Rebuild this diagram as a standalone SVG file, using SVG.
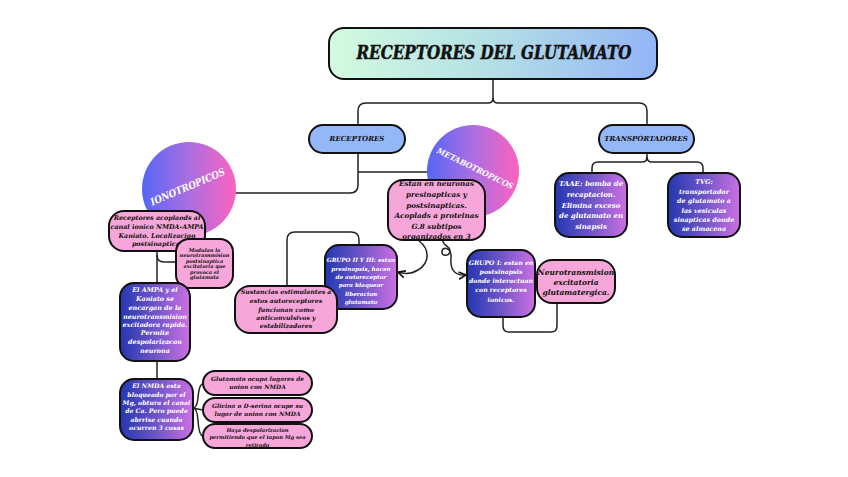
<svg xmlns="http://www.w3.org/2000/svg" width="848" height="477" viewBox="0 0 848 477">
<defs>
<linearGradient id="gTitle" x1="0" y1="0" x2="1" y2="0"><stop offset="0" stop-color="#d3fbe0"/><stop offset="0.5" stop-color="#b3dfe6"/><stop offset="1" stop-color="#93b5f7"/></linearGradient>
<linearGradient id="gCirc" x1="0" y1="0" x2="1" y2="0"><stop offset="0" stop-color="#5566f6"/><stop offset="0.5" stop-color="#ab6ee0"/><stop offset="1" stop-color="#fb63bf"/></linearGradient>
<linearGradient id="gBox" x1="0" y1="0" x2="1" y2="0"><stop offset="0" stop-color="#2437b0"/><stop offset="0.5" stop-color="#6f55c8"/><stop offset="1" stop-color="#cc70e2"/></linearGradient>
<marker id="arr" viewBox="0 0 10 10" refX="9" refY="5" markerWidth="6" markerHeight="6" orient="auto"><path d="M1,1 L9,5 L1,9" fill="none" stroke="#111" stroke-width="1.8"/></marker>
</defs>
<style>
text{font-family:"DejaVu Serif","Liberation Serif",serif;font-weight:bold;font-style:italic;text-anchor:middle}
.b{fill:#111}
.w{fill:#fff}
.box{stroke:#111;stroke-width:2}
.pink{fill:#f6a6d8}
.blue{fill:#94b8f7}
.grad{fill:url(#gBox)}
.con path{fill:none;stroke:#222;stroke-width:1.5}
</style>
<rect width="848" height="477" fill="#fff"/>

<g class="con">
<path d="M493,79 V98 Q493,103 488,103 H366 Q358,103 358,111 V125"/>
<path d="M493,98 Q493,103 498,103 H639 Q647,103 647,111 V125"/>
<path d="M358,153 V185 Q358,193 350,193 H235"/>
<path d="M358,172 H429"/>
<path d="M647,153 V157 Q647,162 642,162 H598 Q592,162 592,168 V173"/>
<path d="M647,157 Q647,162 652,162 H697 Q703,162 703,168 V173"/>
<path d="M157,251 V283"/>
<path d="M157,255 Q157,262 164,262 H177"/>
<path d="M157,361 V379"/>
<path d="M193,408 Q197,408 198,398 Q199,384 203,384"/>
<path d="M193,408 Q197,409 203,410"/>
<path d="M193,408 Q197,408 198,420 Q199,436 203,436"/>
<path d="M287,286 V240 Q287,232 295,232 H351 Q359,232 359,240 V245"/>
<path d="M503,317 V326 Q503,332 509,332 H551 Q557,332 557,326 V303"/>
<path d="M419,241 C430,249 430,263 418,270 C410,275 404,274 398,272" marker-end="url(#arr)"/>
<path d="M443,241 C443,246 452,247 450,252 C448,257 441,256 442,251 C443,246 452,248 451,258 C450,270 455,276 466,275" marker-end="url(#arr)"/>
</g>

<g id="title">
<rect class="box" x="329" y="28" width="328" height="51" rx="15" fill="url(#gTitle)"/>
<text class="b" x="494" y="59" font-size="18" stroke="#111" stroke-width="0.5" textLength="275" lengthAdjust="spacingAndGlyphs">RECEPTORES DEL GLUTAMATO</text>
</g>

<g id="receptores">
<rect class="box blue" x="309" y="125" width="96" height="28" rx="14"/>
<text class="b" x="357" y="141" font-size="7">RECEPTORES</text>
</g>

<g id="transportadores">
<rect class="box blue" x="599" y="125" width="95" height="28" rx="14"/>
<text class="b" x="646" y="141" font-size="7">TRANSPORTADORES</text>
</g>

<g id="ionotropicos">
<circle cx="189" cy="189" r="47" fill="url(#gCirc)"/>
<text class="w" x="0" y="0" font-size="10" textLength="80" lengthAdjust="spacingAndGlyphs" transform="translate(189,190) rotate(-23)">IONOTROPICOS</text>
</g>

<g id="metabotropicos">
<circle cx="473" cy="171" r="46" fill="url(#gCirc)"/>
<text class="w" x="0" y="0" font-size="8" textLength="84" lengthAdjust="spacingAndGlyphs" transform="translate(474,171) rotate(26)">METABOTROPICOS</text>
</g>

<g id="acoplados">
<rect class="box pink" x="109" y="211" width="96" height="40" rx="15"/>
<text class="b" font-size="6.4"><tspan x="157" y="219.5">Receptores acoplaods al</tspan><tspan x="157" y="228.5">canal ionico NMDA-AMPA</tspan><tspan x="157" y="237.5">Kaniato. Localizacion</tspan><tspan x="157" y="246">postsinaptica.</tspan></text>
</g>

<g id="modulan">
<rect class="box pink" x="176" y="239" width="57" height="49" rx="13"/>
<text class="b" font-size="5"><tspan x="204.5" y="251.5">Modulan la</tspan><tspan x="204.5" y="257">neurotransmision</tspan><tspan x="204.5" y="262.5">postsinaptica</tspan><tspan x="204.5" y="268">excitatoria que</tspan><tspan x="204.5" y="273.5">provoca el</tspan><tspan x="204.5" y="279">glutamato</tspan></text>
</g>

<g id="ampa">
<rect class="box grad" x="120" y="283" width="70" height="78" rx="14"/>
<text class="w" font-size="6.4"><tspan x="155" y="292">El AMPA y el</tspan><tspan x="155" y="301">Kaniato se</tspan><tspan x="155" y="310">encargan de la</tspan><tspan x="155" y="319">neurotransmision</tspan><tspan x="155" y="327">excitadora rapida.</tspan><tspan x="155" y="335">Permite</tspan><tspan x="155" y="344">despolarizacon</tspan><tspan x="155" y="353">neurona</tspan></text>
</g>

<g id="nmda">
<rect class="box grad" x="120" y="379" width="73" height="61" rx="14"/>
<text class="w" font-size="6.2"><tspan x="156.5" y="388">El NMDA esta</tspan><tspan x="156.5" y="396.5">bloqueado por el</tspan><tspan x="156.5" y="405">Mg, obtura el canal</tspan><tspan x="156.5" y="413">de Ca. Pero puede</tspan><tspan x="156.5" y="421.5">abrrise cuando</tspan><tspan x="156.5" y="430">ocurren 3 cosas</tspan></text>
</g>

<g id="glutamato-ocupa">
<rect class="box pink" x="203" y="371" width="109" height="24" rx="12"/>
<text class="b" font-size="5.9"><tspan x="257.5" y="380.5">Glutamato ocupa lugares de</tspan><tspan x="257.5" y="388.5">union con NMDA</tspan></text>
</g>

<g id="glicina">
<rect class="box pink" x="203" y="398" width="109" height="24" rx="12"/>
<text class="b" font-size="5.9"><tspan x="257.5" y="407.5">Glicina o D-serina ocupe su</tspan><tspan x="257.5" y="415.5">lugar de union con NMDA</tspan></text>
</g>

<g id="despolarizacion">
<rect class="box pink" x="203" y="424" width="109" height="24" rx="12"/>
<text class="b" font-size="5.2"><tspan x="257.5" y="432">Haya despolarizacion</tspan><tspan x="257.5" y="438.5">permitiendo que el tapon Mg sea</tspan><tspan x="257.5" y="446.5">retirado</tspan></text>
</g>

<g id="metab-desc">
<rect class="box pink" x="388" y="180" width="97" height="60" rx="15"/>
<text class="b" font-size="7.2"><tspan x="436.5" y="186">Estan en neuronas</tspan><tspan x="436.5" y="197">presinapticas y</tspan><tspan x="436.5" y="207.5">postsinapticas.</tspan><tspan x="436.5" y="218">Acoplads a proteinas</tspan><tspan x="436.5" y="229">G.8 subtipos</tspan><tspan x="436.5" y="239">organizados en 3</tspan></text>
</g>

<g id="grupo2">
<rect class="box grad" x="325" y="245" width="72" height="64" rx="14"/>
<text class="w" font-size="5.7"><tspan x="361" y="262">GRUPO II Y III: estan</tspan><tspan x="361" y="270.5">presinapsis, hacen</tspan><tspan x="361" y="279">de autoreceptor</tspan><tspan x="361" y="287">para bloquear</tspan><tspan x="361" y="295.5">liberacion</tspan><tspan x="361" y="304">glutamato</tspan></text>
</g>

<g id="sustancias">
<rect class="box pink" x="235" y="286" width="102" height="47" rx="15"/>
<text class="b" font-size="6.2"><tspan x="286" y="294">Sustancias estimulantes a</tspan><tspan x="286" y="303">estos autoreceptores</tspan><tspan x="286" y="311.5">funcionan como</tspan><tspan x="286" y="319.5">anticonvulsivos y</tspan><tspan x="286" y="328">estabilizadores</tspan></text>
</g>

<g id="grupo1">
<rect class="box grad" x="467" y="250" width="68" height="67" rx="14"/>
<text class="w" font-size="6.2"><tspan x="501" y="265">GRUPO I: estan en</tspan><tspan x="501" y="274">postsinapsis</tspan><tspan x="501" y="282.5">donde interactuan</tspan><tspan x="501" y="292">con receptores</tspan><tspan x="501" y="301.5">ionicos.</tspan></text>
</g>

<g id="neuro">
<rect class="box pink" x="537" y="260" width="78" height="43" rx="15"/>
<text class="b" font-size="7.5"><tspan x="576" y="275">Neurotransmision</tspan><tspan x="576" y="285">excitatoria</tspan><tspan x="576" y="295">glutamatergica.</tspan></text>
</g>

<g id="taae">
<rect class="box grad" x="555" y="173" width="72" height="64" rx="14"/>
<text class="w" font-size="7"><tspan x="591" y="186">TAAE: bomba de</tspan><tspan x="591" y="196.5">recaptacion.</tspan><tspan x="591" y="207.5">Elimina exceso</tspan><tspan x="591" y="218">de glutamato en</tspan><tspan x="591" y="228.5">sinapsis</tspan></text>
</g>

<g id="tvg">
<rect class="box grad" x="668" y="173" width="72" height="64" rx="14"/>
<text class="w" font-size="6.4"><tspan x="704" y="184">TVG:</tspan><tspan x="704" y="193.5">transportador</tspan><tspan x="704" y="203">de glutamato a</tspan><tspan x="704" y="212.5">las vesiculas</tspan><tspan x="704" y="221.5">sinapticas donde</tspan><tspan x="704" y="230.5">se almacena</tspan></text>
</g>
</svg>
